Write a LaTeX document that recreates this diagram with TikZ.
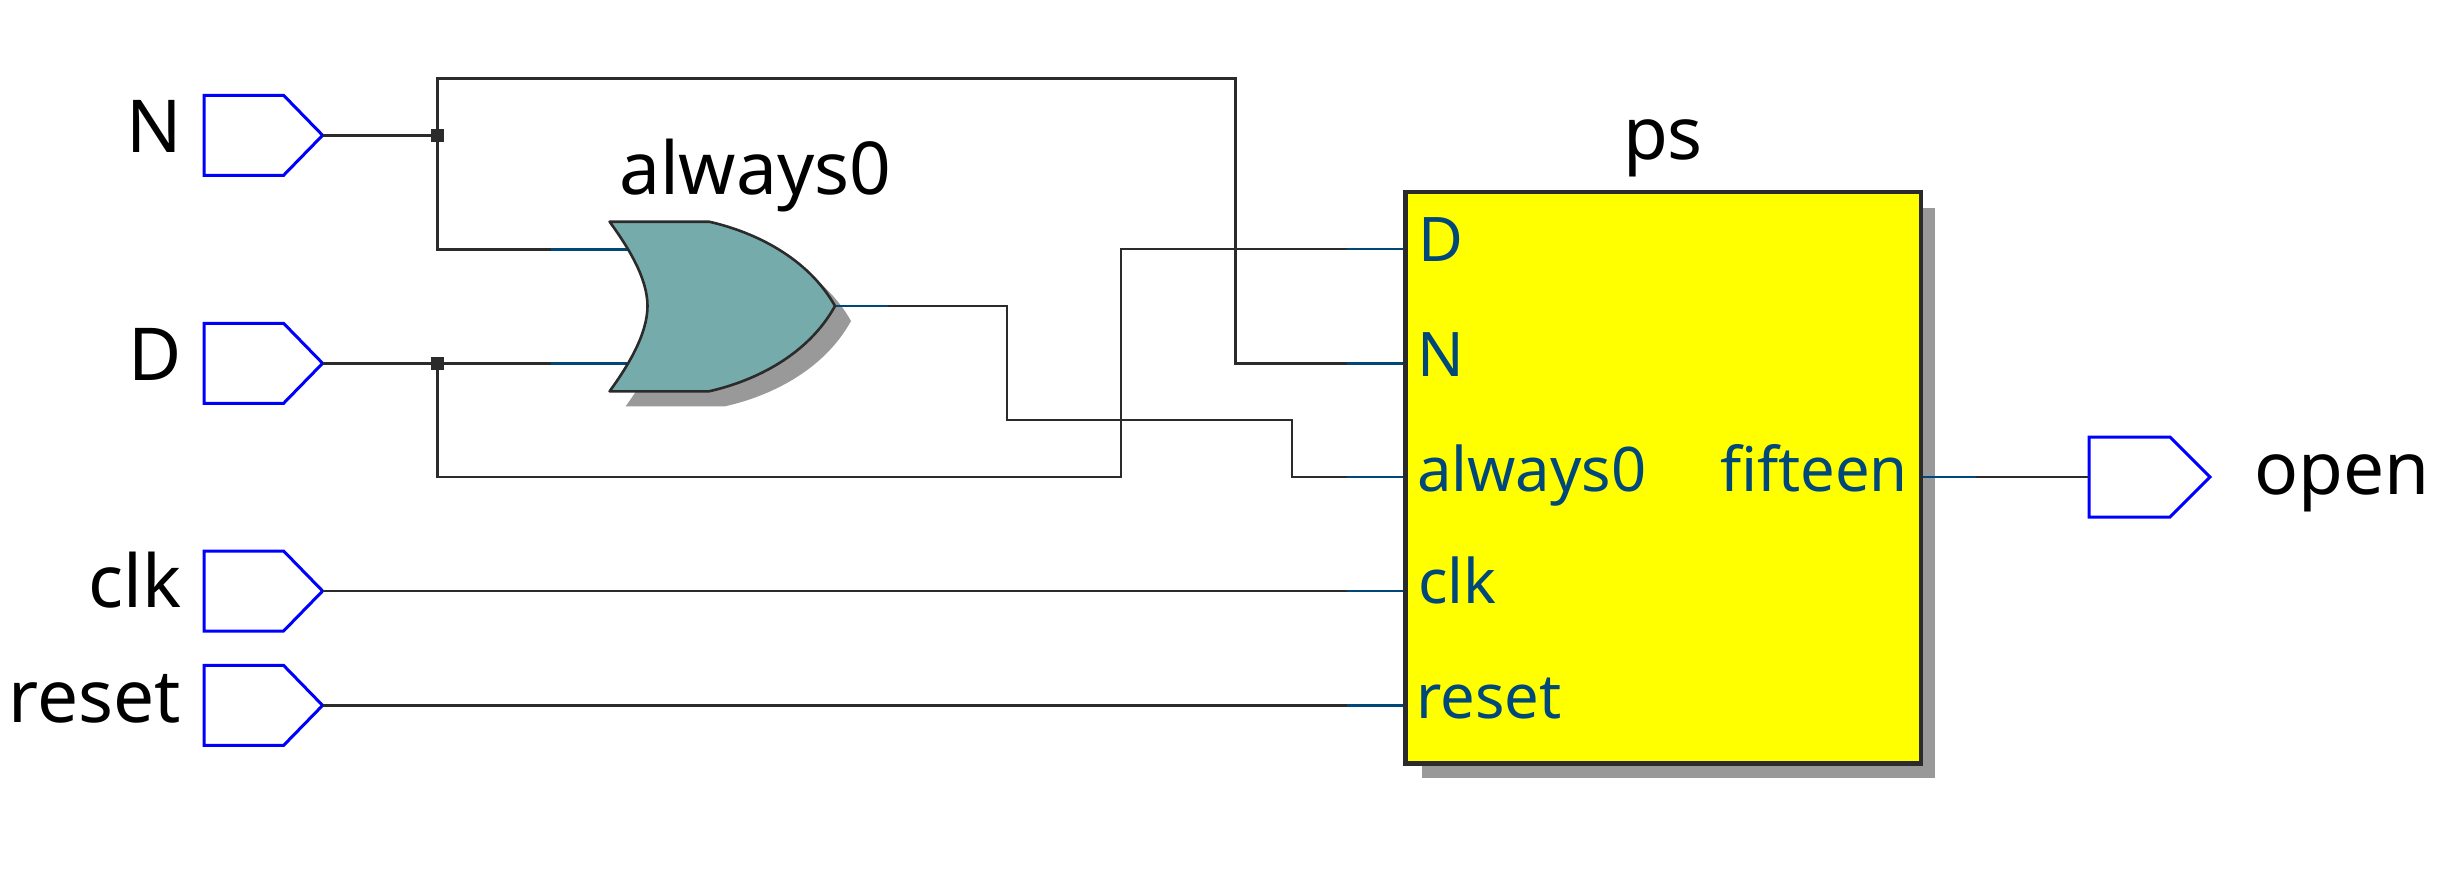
\documentclass[tikz,border=0pt]{standalone}
\usepackage{fontspec}
\setmainfont{Noto Sans}
\definecolor{wirec}{HTML}{2B2B2B}
\definecolor{stubc}{HTML}{00487A}
\definecolor{portc}{HTML}{0000FF}
\definecolor{gatec}{HTML}{75ACAB}
\definecolor{shadowc}{HTML}{999999}
\definecolor{boxc}{HTML}{FFFF00}
\tikzset{
  wire/.style={draw=wirec,line width=2.6pt},
  stub/.style={draw=stubc,line width=2.6pt},
  portline/.style={draw=portc,line width=3pt,fill=white,line join=miter},
  biglabel/.style={inner sep=0pt,text=black,font=\fontsize{73}{73}\selectfont},
  pinlabel/.style={inner sep=0pt,text=stubc,font=\fontsize{61.5}{61.5}\selectfont},
  junction/.style={fill=wirec,draw=none,inner sep=0pt,minimum width=13pt,minimum height=13pt},
  inport/.pic={
    \draw[portline] (0,-40) -- (79.6,-40) -- (118.6,0) -- (79.6,40) -- (0,40) -- cycle;
    \coordinate (tip) at (118.6,0);
  },
  outport/.pic={
    \draw[portline] (0,-40) -- (81,-40) -- (121,0) -- (81,40) -- (0,40) -- cycle;
    \coordinate (left) at (0,0);
  }
}
\begin{document}
\begin{tikzpicture}[x=1pt,y=-1pt]
\useasboundingbox (0,0) rectangle (2455,872);

% shadows
\fill[shadowc] (1422,208) rectangle (1935,778);
\fill[shadowc,shift={(16,15)}] (609.6,221.7) -- (709,221.7)
  .. controls (755,232) and (808,258) .. (835,306)
  .. controls (808,355) and (755,381) .. (709,391.3)
  -- (609.6,391.3)
  .. controls (628,366) and (647.5,334) .. (647.5,306)
  .. controls (647.5,278) and (628,247) .. (609.6,221.7) -- cycle;

% block
\node[draw=wirec,fill=boxc,line width=3pt,minimum width=514pt,minimum height=570pt,inner sep=0pt] (ps) at (1663,477.5) {};
\coordinate (pinD) at (ps.west |- 0,249);
\coordinate (pinN) at (ps.west |- 0,363.4);
\coordinate (pinA) at (ps.west |- 0,477);
\coordinate (pinC) at (ps.west |- 0,591);
\coordinate (pinR) at (ps.west |- 0,705.4);
\coordinate (pinF) at (ps.east |- 0,477);

% gate pins
\coordinate (gateA) at (631,249.3);
\coordinate (gateB) at (631,363.3);
\coordinate (gateY) at (835,306);

% ports
\pic (N) at (204,135.3) {inport};
\pic (D) at (204,363.3) {inport};
\pic (clk) at (204,591) {inport};
\pic (rst) at (204,705.4) {inport};
\pic (open) at (2089,477) {outport};

% junctions
\node[junction] (jN) at (437.4,135.3) {};
\node[junction] (jD) at (437.4,363.3) {};

% wires
\draw[wire] (Ntip) -- (jN.center);
\draw[wire] (jN.center) |- (gateA);
\draw[wire] (jN.center) -- (437.4,78.3) -- (1235.6,78.3) -- (1235.6,363.4) -- (pinN);
\draw[wire] (Dtip) -- (gateB);
\draw[wire] (jD.center) -- (437.4,477) -- (1121,477) -- (1121,249) -- (pinD);
\draw[wire] (gateY) -- (1007,306) -- (1007,420) -- (1292,420) -- (1292,477) -- (pinA);
\draw[wire] (clktip) -- (pinC);
\draw[wire] (rsttip) -- (pinR);
\draw[wire] (pinF) -- (openleft);

% stubs
\draw[stub] (pinD) -- ++(-58,0);
\draw[stub] (pinN) -- ++(-58,0);
\draw[stub] (pinA) -- ++(-58,0);
\draw[stub] (pinC) -- ++(-58,0);
\draw[stub] (pinR) -- ++(-58,0);
\draw[stub] (pinF) -- ++(54,0);
\draw[stub] (gateA) -- ++(-80,0);
\draw[stub] (gateB) -- ++(-80,0);
\draw[stub] (gateY) -- ++(53,0);

% gate
\draw[draw=wirec,line width=2.6pt,fill=gatec,line join=round] (609.6,221.7) -- (709,221.7)
  .. controls (755,232) and (808,258) .. (835,306)
  .. controls (808,355) and (755,381) .. (709,391.3)
  -- (609.6,391.3)
  .. controls (628,366) and (647.5,334) .. (647.5,306)
  .. controls (647.5,278) and (628,247) .. (609.6,221.7) -- cycle;

% block border over the stub ends
\draw[draw=wirec,line width=3pt] (ps.north west) rectangle (ps.south east);

% labels
\node[biglabel,anchor=base east] (lN) at (182,152.7) {N};
\node[biglabel,anchor=base east] (lD) at (182,380) {D};
\node[biglabel,anchor=base east] (lclk) at (182,607) {clk};
\node[biglabel,anchor=base east] (lrst) at (181,722) {reset};
\node[biglabel,anchor=base west] (lgate) at (619,194) {always0};
\node[biglabel,anchor=base] (lps) at (1663,160) {ps};
\node[biglabel,anchor=base west] (lopen) at (2254,494) {open};

\node[pinlabel,anchor=base west] (tD) at (1418,261.6) {D};
\node[pinlabel,anchor=base west] (tN) at (1417,376) {N};
\node[pinlabel,anchor=base west] (tA) at (1417,491) {always0};
\node[pinlabel,anchor=base west] (tC) at (1418,603.6) {clk};
\node[pinlabel,anchor=base west] (tR) at (1416,718) {reset};
\node[pinlabel,anchor=base east] (tF) at (1908,491) {fifteen};
\end{tikzpicture}
\end{document}
